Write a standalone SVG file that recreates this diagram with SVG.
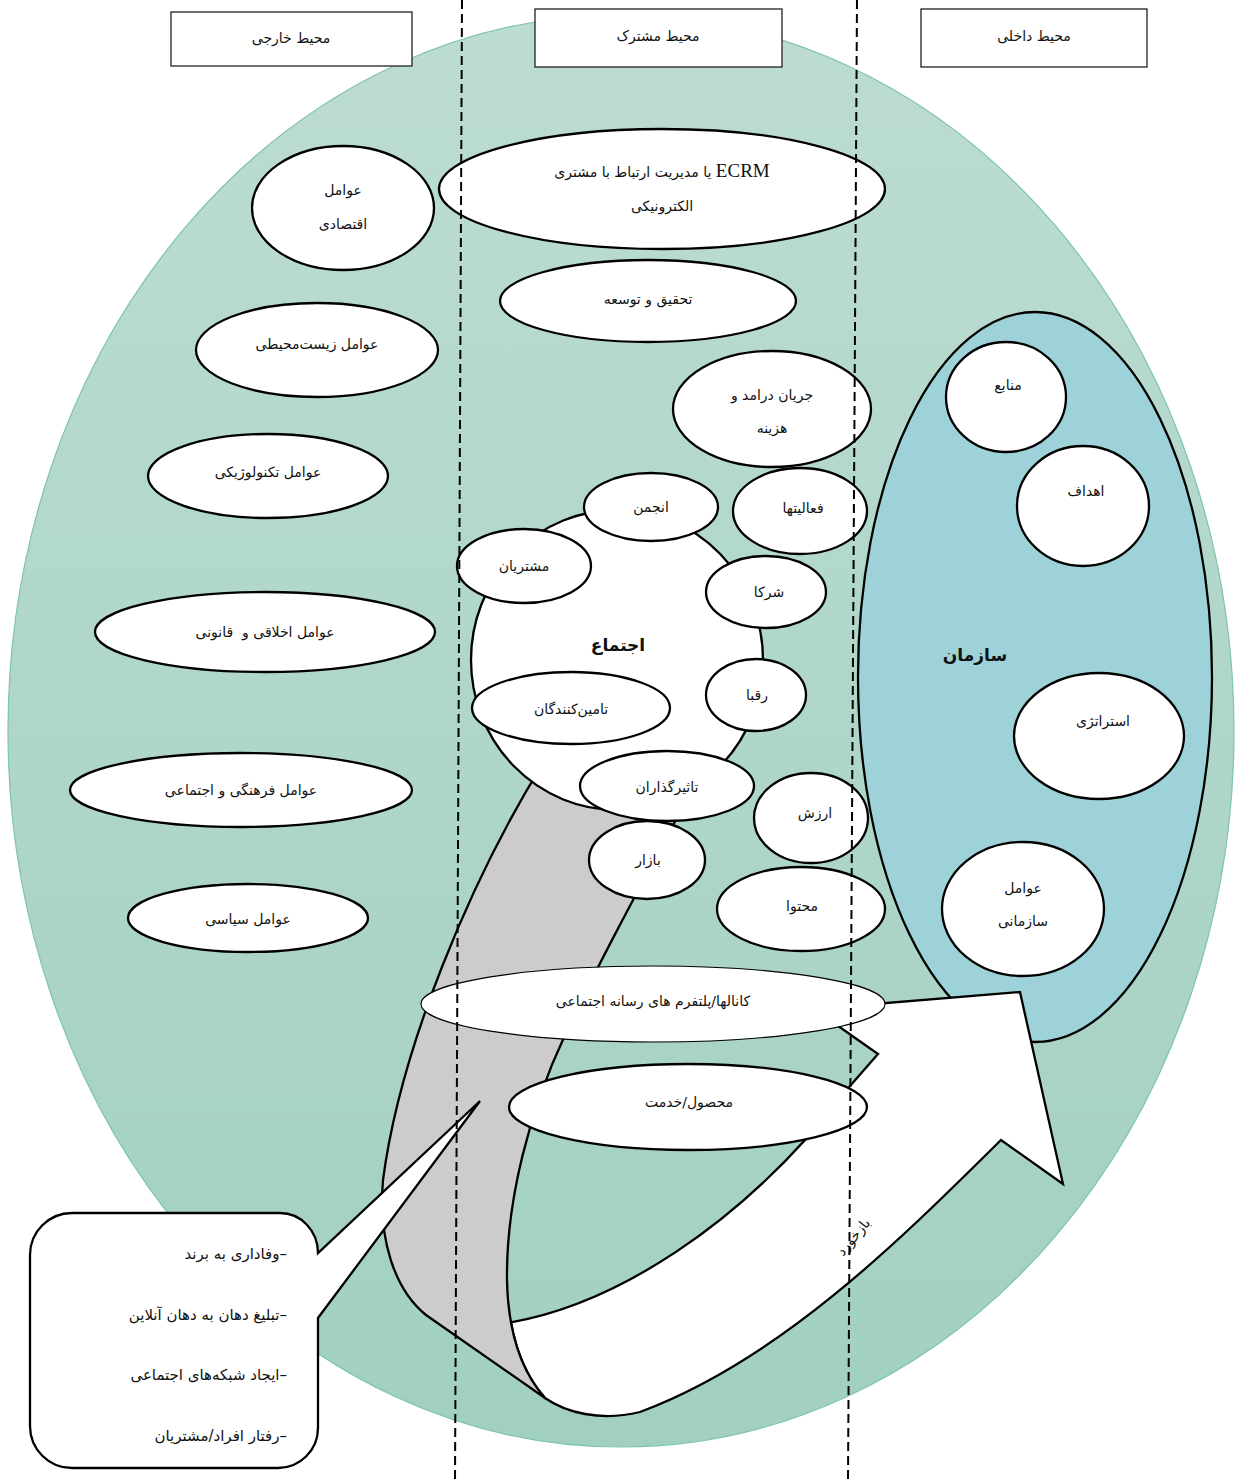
<svg xmlns="http://www.w3.org/2000/svg" width="1240" height="1481" viewBox="0 0 1240 1481">
<defs>
<linearGradient id="bgGrad" x1="0" y1="0" x2="0" y2="1">
<stop offset="0" stop-color="#bddcd3"/>
<stop offset="1" stop-color="#a1d0c0"/>
</linearGradient>
</defs>
<style>
.n{fill:#fff;stroke:#000;stroke-width:2.3}
.thin{fill:#fff;stroke:#000;stroke-width:1.2}
.t{font-family:"DejaVu Sans","Noto Sans",sans-serif;font-size:14px;fill:#111;text-anchor:middle}
.b{font-weight:bold;font-size:17px}
.c{font-size:15px;text-anchor:start}
.lat{font-family:"Liberation Serif",serif;font-size:19px}
.hdr{fill:#fff;stroke:#222;stroke-width:1.3}
.dash{stroke:#000;stroke-width:2;stroke-dasharray:9 5;fill:none}
</style>
<rect width="1240" height="1481" fill="#fff"/>
<g id="environment">
<ellipse cx="621" cy="731" rx="613" ry="716" fill="url(#bgGrad)" stroke="#7cc4aa" stroke-width="1.2"/>
</g>
<g id="organization">
<ellipse cx="1035" cy="677" rx="177" ry="365" fill="#9dd3d8" stroke="#000" stroke-width="2.3"/>
<text class="t b" x="975" y="661">سازمان</text>
</g>
<g id="connectors">
<path id="feedback-arrow" fill="#fff" stroke="#000" stroke-width="2.3" stroke-linejoin="miter" d="M 510.9,1322.3 C 610,1305 740,1230 850,1086 L 878,1054 L 841,1028 L 814,1009 L 1020,992 L 1063,1184 L 1001,1140 C 900,1240 780,1360 640,1412 C 600,1422 565,1412 545,1398 C 527.5,1378.4 516.4,1352.9 510.9,1322.3 Z"/>
<path id="ribbon-back" fill="#cccccc" stroke="#000" stroke-width="2.3" stroke-linejoin="round" d="M 545,760 C 470,880 400,1050 383,1180 C 378,1240 395,1290 426,1315 L 545,1398 C 520,1370 508,1330 507,1280 C 506,1200 530,1110 565,1035 C 590,980 630,905 700,775 Z"/>
<text class="t" font-size="13" transform="translate(857,1240) rotate(-50)">بازخورد</text>
</g>
<g id="external-factors">
<g id="n-economic"><ellipse class="n" cx="343" cy="208" rx="91" ry="62"/><text class="t" x="343" y="195">عوامل</text><text class="t" x="343" y="229">اقتصادی</text></g>
<g id="n-environmental"><ellipse class="n" cx="317" cy="350" rx="121" ry="47"/><text class="t" x="317" y="349">عوامل زیست‌محیطی</text></g>
<g id="n-technological"><ellipse class="n" cx="268" cy="476" rx="120" ry="42"/><text class="t" x="268" y="477">عوامل تکنولوژیکی</text></g>
<g id="n-legal"><ellipse class="n" cx="265" cy="632" rx="170" ry="40"/><text class="t" x="265" y="637" xml:space="preserve">عوامل اخلاقی و  قانونی</text></g>
<g id="n-cultural"><ellipse class="n" cx="241" cy="790" rx="171" ry="37"/><text class="t" x="241" y="795">عوامل فرهنگی و اجتماعی</text></g>
<g id="n-political"><ellipse class="n" cx="248" cy="918" rx="120" ry="34"/><text class="t" x="248" y="924">عوامل سیاسی</text></g>
</g>
<g id="shared">
<g id="n-ecrm"><ellipse class="n" cx="662" cy="189" rx="223" ry="60"/><text class="t" x="662" y="177" direction="rtl"><tspan class="lat">ECRM</tspan> یا مدیریت ارتباط با مشتری</text><text class="t" x="662" y="211">الکترونیکی</text></g>
<g id="n-rnd"><ellipse class="n" cx="648" cy="301" rx="148" ry="41"/><text class="t" x="648" y="304">تحقیق و توسعه</text></g>
<g id="n-revenue"><ellipse class="n" cx="772" cy="409" rx="99" ry="58"/><text class="t" x="772" y="400">جریان درامد و</text><text class="t" x="772" y="433">هزینه</text></g>
<g id="n-community"><ellipse class="n" cx="617" cy="660" rx="146" ry="150"/><text class="t b" x="618" y="651">اجتماع</text></g>
<g id="n-association"><ellipse class="n" cx="651" cy="507" rx="67" ry="34"/><text class="t" x="651" y="512">انجمن</text></g>
<g id="n-activities"><ellipse class="n" cx="800" cy="511" rx="67" ry="43"/><text class="t" x="803" y="513">فعالیتها</text></g>
<g id="n-customers"><ellipse class="n" cx="524" cy="566" rx="67" ry="37"/><text class="t" x="524" y="571">مشتریان</text></g>
<g id="n-partners"><ellipse class="n" cx="766" cy="592" rx="60" ry="36"/><text class="t" x="769" y="597">شرکا</text></g>
<g id="n-competitors"><ellipse class="n" cx="756" cy="695" rx="50" ry="36"/><text class="t" x="757" y="700">رقبا</text></g>
<g id="n-suppliers"><ellipse class="n" cx="571" cy="708" rx="99" ry="36"/><text class="t" x="571" y="714">تامین‌کنندگان</text></g>
<g id="n-influencers"><ellipse class="n" cx="667" cy="786" rx="87" ry="35"/><text class="t" x="667" y="792">تاثیرگذاران</text></g>
<g id="n-value"><ellipse class="n" cx="811" cy="818" rx="57" ry="45"/><text class="t" x="815" y="818">ارزش</text></g>
<g id="n-market"><ellipse class="n" cx="647" cy="860" rx="58" ry="39"/><text class="t" x="648" y="865">بازار</text></g>
<g id="n-content"><ellipse class="n" cx="801" cy="909" rx="84" ry="42"/><text class="t" x="802" y="911">محتوا</text></g>
<g id="n-channels"><ellipse class="thin" cx="653" cy="1004" rx="232" ry="38"/><text class="t" x="653" y="1006">کانالها/پلتفرم های رسانه اجتماعی</text></g>
<g id="n-product"><ellipse class="n" cx="688" cy="1107" rx="179" ry="43"/><text class="t" x="689" y="1107">محصول/خدمت</text></g>
</g>
<g id="internal">
<g id="n-resources"><ellipse class="n" cx="1006" cy="397" rx="60" ry="55"/><text class="t" x="1008" y="390">منابع</text></g>
<g id="n-goals"><ellipse class="n" cx="1083" cy="506" rx="66" ry="60"/><text class="t" x="1086" y="496">اهداف</text></g>
<g id="n-strategy"><ellipse class="n" cx="1099" cy="736" rx="85" ry="63"/><text class="t" x="1103" y="726">استراتژی</text></g>
<g id="n-orgfactors"><ellipse class="n" cx="1023" cy="909" rx="81" ry="67"/><text class="t" x="1023" y="893">عوامل</text><text class="t" x="1023" y="926">سازمانی</text></g>
</g>
<g id="callout">
<path fill="#fff" stroke="#000" stroke-width="2.3" stroke-linejoin="miter" d="M 72,1213 H 280 A 38 40 0 0 1 318,1253 L 480,1101 L 318,1318 V 1428 A 40 40 0 0 1 278,1468 H 72 A 42 42 0 0 1 30,1426 V 1255 A 42 42 0 0 1 72,1213 Z"/>
<text class="t c" x="287" y="1259" direction="rtl">–وفاداری به برند</text>
<text class="t c" x="287" y="1320" direction="rtl">–تبلیغ دهان به دهان آنلاین</text>
<text class="t c" x="287" y="1380" direction="rtl">–ایجاد شبکه‌های اجتماعی</text>
<text class="t c" x="287" y="1441" direction="rtl">–رفتار افراد/مشتریان</text>
</g>
<g id="boundaries">
<line class="dash" x1="462" y1="0" x2="455" y2="1481"/>
<line class="dash" x1="857" y1="0" x2="848" y2="1481"/>
</g>
<g id="headers">
<g id="h-external"><rect class="hdr" x="171" y="12" width="241" height="54"/><text class="t" x="291" y="43">محیط خارجی</text></g>
<g id="h-shared"><rect class="hdr" x="535" y="9" width="247" height="58"/><text class="t" x="658" y="41">محیط مشترک</text></g>
<g id="h-internal"><rect class="hdr" x="921" y="9" width="226" height="58"/><text class="t" x="1034" y="41">محیط داخلی</text></g>
</g>
</svg>
